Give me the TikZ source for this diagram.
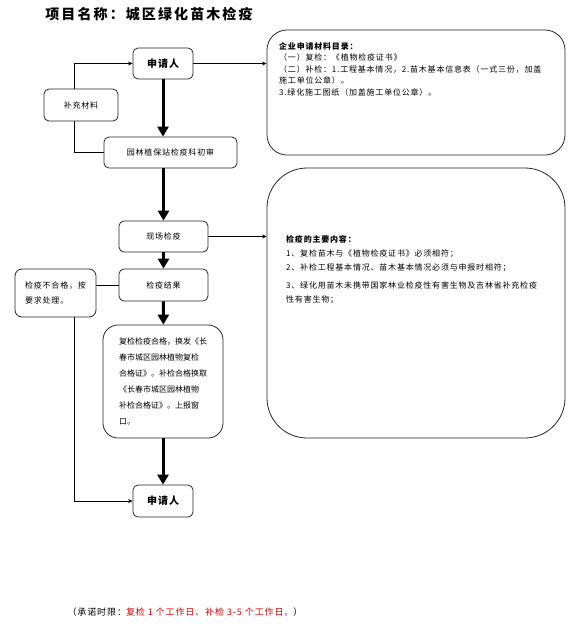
\documentclass[tikz,border=0pt]{standalone}
\usepackage{fontspec}
\setmainfont{Noto Sans CJK SC}
\newfontfamily\cjk[LetterSpace=10]{Noto Sans CJK SC}
\newfontfamily\cjknarrow{Noto Sans CJK SC}
\newfontfamily\cjktitle[LetterSpace=15]{Noto Sans CJK SC}
\usetikzlibrary{positioning,arrows.meta}
\definecolor{deadline}{RGB}{225,0,0}

\tikzset{
    stepbox/.style={draw=black!85, line width=0.8pt, rounded corners=5pt, fill=white,
        inner sep=0pt, font=\cjk\fontsize{8}{10}\selectfont},
    infobox/.style={draw=black!85, line width=0.8pt, fill=white, inner sep=0pt},
    flow/.style={-{Triangle[length=10pt,width=11pt]}, line width=3pt},
    link/.style={-{Stealth[length=4.5pt,width=4pt]}, line width=0.6pt},
    plain/.style={line width=0.6pt},
}

\begin{document}
\begin{tikzpicture}[x=1pt, y=-1pt]

    \useasboundingbox (0,0) rectangle (578,630);

    % =========================================================================
    % TITLE
    % =========================================================================
    \node[font=\cjktitle\bfseries\fontsize{14}{16}\selectfont] (title) at (149, 14) {项目名称：城区绿化苗木检疫};

    % =========================================================================
    % MAIN FLOW
    % =========================================================================
    \node[stepbox, minimum width=60, minimum height=31, font=\cjk\bfseries\fontsize{10}{12}\selectfont] (apply1) at (163, 63.5) {申请人};
    \node[stepbox, minimum width=133, minimum height=31] (review) at (170.5, 152.5) {园林植保站检疫科初审};
    \node[stepbox, minimum width=89, minimum height=31] (site) at (163.5, 236.5) {现场检疫};
    \node[stepbox, minimum width=89, minimum height=32] (result) at (163.5, 285) {检疫结果};
    \node[stepbox, rounded corners=15pt, minimum width=120, minimum height=113, align=left,
          font=\cjknarrow\fontsize{8}{16}\selectfont] (pass) at (163, 381.5)
        {复检检疫合格，换发《长\\春市城区园林植物复检\\合格证》。补检合格换取\\《长春市城区园林植物\\补检合格证》。上报窗\\口。};
    \node[stepbox, minimum width=60, minimum height=32, font=\cjk\bfseries\fontsize{10}{12}\selectfont] (apply2) at (163, 501) {申请人};

    \coordinate (loopL) at (74, 0);

    % thick arrows down the middle
    \draw[flow] (apply1.south) -- (apply1.south |- review.north);
    \draw[flow] (site.north |- review.south) -- (site.north);
    \draw[flow] (site) -- (result);
    \draw[flow] (result) -- (pass);
    \draw[flow] (pass) -- (apply2);

    % supplementary loop (runs behind the box)
    \draw[link] (review.west) -| (loopL |- apply1) -- (apply1.west);
    \node[stepbox, minimum width=74, minimum height=32] (supp) at (81, 105) {补充材料};

    % failed inspection
    \node[stepbox, rounded corners=7pt, minimum width=81, minimum height=48, align=left,
          font=\cjk\fontsize{8}{15}\selectfont] (fail) at (55.5, 293) {检疫不合格，按\\要求处理。};
    \draw[plain] (result.west) -- (fail.east |- result.west);
    \draw[link] (loopL |- fail.south) -- (loopL |- apply2) -- (apply2.west);

    % =========================================================================
    % SIDE NOTES
    % =========================================================================
    \node[infobox, rounded corners=20pt, minimum width=298, minimum height=125] (docs) at (416, 92.5) {};
    \node[infobox, rounded corners=40pt, minimum width=298, minimum height=270] (items) at (416, 303) {};
    \draw[link] (apply1.east) -- (apply1.east -| docs.west);
    \draw[link] (site.east) -- (site.east -| items.west);

    \node[anchor=north west, align=left, inner sep=0pt, font=\cjk\fontsize{8}{11.5}\selectfont] (docstext) at (279, 42)
        {{\bfseries 企业申请材料目录：}\\
         （一）复检：《植物检疫证书》\\
         （二）补检：1.工程基本情况，2.苗木基本信息表（一式三份，加盖\\
         施工单位公章）。\\
         3.绿化施工图纸（加盖施工单位公章）。};

    \node[anchor=north west, align=left, inner sep=0pt, font=\cjk\fontsize{8}{14}\selectfont] (itemstext) at (286, 235)
        {{\bfseries 检疫的主要内容：}\\
         1、复检苗木与《植物检疫证书》必须相符；\\
         2、补检工程基本情况、苗木基本情况必须与申报时相符；\\[4pt]
         3、绿化用苗木未携带国家林业检疫性有害生物及吉林省补充检疫\\
         性有害生物；};

    % =========================================================================
    % DEADLINE NOTE
    % =========================================================================
    \node[font=\cjk\fontsize{9}{11}\selectfont] (deadline) at (185, 612)
        {（承诺时限：\textcolor{deadline}{复检 1 个工作日、补检 3-5 个工作日。}）};

\end{tikzpicture}
\end{document}
